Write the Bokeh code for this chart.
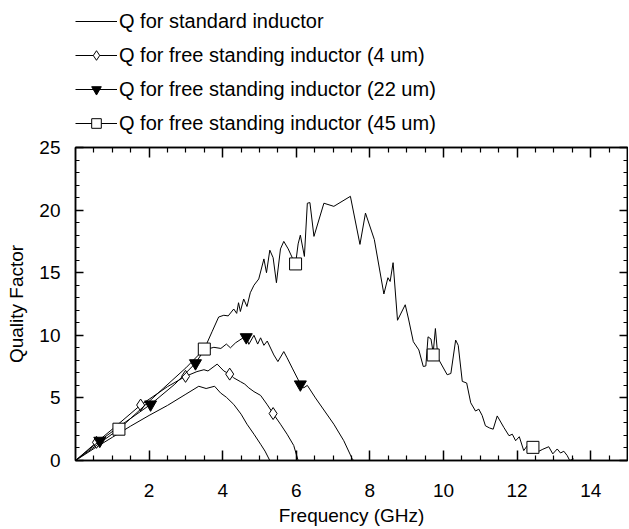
from bokeh.plotting import figure
from bokeh.layouts import column
from bokeh.models import Range1d, LinearAxis, FixedTicker, Legend, LegendItem, CustomJSTickFormatter
from bokeh.embed import file_html
from bokeh.resources import INLINE

# ---- data ----
std_f = [0, 0.5, 1.0, 1.5, 2.0, 2.5, 3.0, 3.35, 3.55, 3.78, 3.94, 4.1, 4.3, 4.5, 4.66, 4.85, 5.03, 5.15, 5.28]
std_q = [0, 0.95, 1.85, 2.75, 3.6, 4.4, 5.3, 5.93, 5.75, 5.93, 5.4, 5.05, 4.48, 3.7, 2.9, 2.1, 1.3, 0.75, 0]

fs4_f = [0, 0.57, 1.0, 1.77, 2.5, 2.99, 3.3, 3.49, 3.6, 3.85, 4.03, 4.19, 4.3, 4.48, 4.6, 4.71, 4.85,
         5.03, 5.2, 5.37, 5.57, 5.75, 5.93, 6.05]
fs4_q = [0, 1.45, 2.5, 4.43, 5.9, 6.72, 7.1, 7.25, 7.15, 7.7, 7.15, 6.9, 6.6, 6.3, 6.1, 5.8, 5.5,
         5.2, 4.5, 3.75, 2.9, 2.1, 1.2, 0]
fs4_mf = [0.57, 1.77, 2.99, 4.19, 5.37]
fs4_mq = [1.45, 4.43, 6.72, 6.9, 3.75]

fs22_f = [0, 0.66, 1.3, 2.04, 2.7, 3.26, 3.5, 3.76, 3.95, 4.1, 4.21, 4.35, 4.53, 4.64, 4.71, 4.85,
          4.95, 5.03, 5.12, 5.21, 5.39, 5.5, 5.66, 5.75, 5.89, 6.11, 6.2, 6.3, 6.52, 7.02, 7.29, 7.52, 7.56]
fs22_q = [0, 1.58, 2.95, 4.48, 6.1, 7.77, 8.83, 9.04, 8.95, 9.3, 9.0, 9.4, 9.75, 9.88, 9.28, 10.0,
          9.3, 9.8, 9.2, 9.54, 8.43, 7.9, 8.7, 8.2, 7.38, 6.11, 5.8, 6.0, 5.0, 2.9, 1.58, 0.13, 0]
fs22_mf = [0.66, 2.04, 3.26, 4.64, 6.11]
fs22_mq = [1.58, 4.48, 7.77, 9.85, 6.08]

fs45_f = [0, 1.18, 2.4, 3.0, 3.5, 3.71, 3.89, 4.03, 4.15, 4.3, 4.38, 4.43, 4.48, 4.57, 4.66, 4.75,
          4.85, 4.98, 5.12, 5.19, 5.28, 5.37, 5.46, 5.57, 5.66, 5.78, 5.89, 5.98, 6.05, 6.11, 6.22,
          6.3, 6.37, 6.48, 6.75, 7.02, 7.47, 7.73, 7.88, 8.12, 8.38, 8.49, 8.55, 8.63, 8.75, 8.96,
          9.05, 9.18, 9.33, 9.45, 9.52, 9.58, 9.66, 9.72, 9.78, 9.85, 10.1, 10.2, 10.33, 10.4, 10.51,
          10.63, 10.74, 10.87, 10.96, 11.05, 11.14, 11.25, 11.35, 11.46, 11.64, 11.78, 11.87, 11.96,
          12.06, 12.18, 12.31, 12.43, 12.54, 12.7, 12.86, 12.97, 13.09, 13.18, 13.27, 13.36, 13.43, 13.54]
fs45_q = [0, 2.5, 5.8, 7.4, 8.9, 10.28, 11.46, 11.6, 11.55, 12.1, 11.75, 12.6, 11.9, 12.9, 12.3, 13.4,
          14.0, 14.5, 16.1, 15.0, 16.8, 16.2, 14.2, 16.9, 17.5, 16.9, 16.2, 15.7, 17.3, 18.0, 16.3,
          20.55, 20.6, 17.9, 20.55, 20.3, 21.1, 17.26, 19.76, 17.65, 13.3, 14.6, 14.3, 15.8, 11.2, 12.44,
          11.3, 9.49, 8.83, 7.51, 7.55, 9.88, 9.7, 8.6, 10.54, 8.17, 6.85, 6.95, 9.62, 9.2, 6.32,
          6.19, 4.61, 3.95, 4.1, 3.6, 2.77, 2.6, 2.5, 3.56, 2.64, 1.98, 2.1, 1.58,
          1.9, 0.79, 1.32, 1.05, 0.66, 0.9, 1.1, 0.53, 0.92, 0.6, 0.74, 0.4, 0, 0.13]
fs45_mf = [1.18, 3.5, 5.98, 9.72, 12.43]
fs45_mq = [2.5, 8.9, 15.7, 8.43, 1.05]

labels = ["Q for standard inductor",
          "Q for free standing inductor (4 um)",
          "Q for free standing inductor (22 um)",
          "Q for free standing inductor (45 um)"]

x_ticks = [2, 4, 6, 8, 10, 12, 14]
x_minor = [0.5, 1, 1.5, 2.5, 3, 3.5, 4.5, 5, 5.5, 6.5, 7, 7.5, 8.5, 9, 9.5, 10.5, 11, 11.5,
           12.5, 13, 13.5, 14.5]
y_ticks = [0, 5, 10, 15, 20, 25]
y_minor = [1, 2, 3, 4, 6, 7, 8, 9, 11, 12, 13, 14, 16, 17, 18, 19, 21, 22, 23, 24]

FONT = "Liberation Sans"

# marker styles
styles = {
    "fs4": dict(marker="diamond", size=12, fill_color="white"),
    "fs22": dict(marker="inverted_triangle", size=12, fill_color="black"),
    "fs45": dict(marker="square", size=12, fill_color="white"),
}


def draw_series(fig):
    r0 = fig.line(std_f, std_q, line_color="black", line_width=1)
    r4 = fig.line(fs4_f, fs4_q, line_color="black", line_width=1)
    m4 = fig.scatter(fs4_mf, fs4_mq, line_color="black", line_width=1, **styles["fs4"])
    r22 = fig.line(fs22_f, fs22_q, line_color="black", line_width=1)
    m22 = fig.scatter(fs22_mf, fs22_mq, line_color="black", line_width=1, **styles["fs22"])
    r45 = fig.line(fs45_f, fs45_q, line_color="black", line_width=1)
    m45 = fig.scatter(fs45_mf, fs45_mq, line_color="black", line_width=1, **styles["fs45"])
    return [[r0], [r4, m4], [r22, m22], [r45, m45]]


# ---------------- main plot ----------------
p = figure(width=628, height=393,
           min_border_left=75, min_border_right=1, min_border_top=12, min_border_bottom=65,
           x_range=Range1d(0, 15), y_range=Range1d(0, 25),
           output_backend="svg", toolbar_location=None)
p.grid.visible = False
p.outline_line_color = "black"
p.outline_line_width = 1.5
p.background_fill_color = "white"
p.border_fill_color = "white"


def style_axis(ax, ticks, minor, major_len, minor_len, labels_on=True):
    ax.ticker = FixedTicker(ticks=ticks, minor_ticks=minor)
    ax.axis_line_color = "black"
    ax.axis_line_width = 1.5
    ax.major_tick_in = major_len
    ax.major_tick_out = 0
    ax.minor_tick_in = minor_len
    ax.minor_tick_out = 0
    ax.major_tick_line_width = 1.5
    ax.minor_tick_line_width = 1.2
    ax.major_tick_line_color = "black"
    ax.minor_tick_line_color = "black"
    ax.major_label_text_font = FONT
    ax.major_label_text_font_size = "19px"
    ax.major_label_text_color = "black"
    ax.axis_label_text_font = FONT
    ax.axis_label_text_font_size = "19px"
    ax.axis_label_text_font_style = "normal"
    ax.axis_label_text_color = "black"
    if not labels_on:
        ax.formatter = CustomJSTickFormatter(code="return ''")
        ax.major_label_standoff = 0


xa = p.xaxis[0]
style_axis(xa, x_ticks, x_minor, 10, 5)
xa.axis_label = "Frequency (GHz)"
xa.major_label_standoff = 23
xa.axis_label_standoff = 5

ya = p.yaxis[0]
style_axis(ya, y_ticks, y_minor, 8, 4)
ya.axis_label = "Quality Factor"
ya.major_label_standoff = 15
ya.axis_label_standoff = 9

top = LinearAxis()
style_axis(top, x_ticks, x_minor, 10, 5, labels_on=False)
p.add_layout(top, "above")
right = LinearAxis()
style_axis(right, y_ticks, y_minor, 8, 4, labels_on=False)
p.add_layout(right, "right")

draw_series(p)

# ---------------- legend strip ----------------
# same series drawn again but scrolled out of view; only their legend glyphs show
lg = figure(width=628, height=135, min_border_left=0, min_border_right=0,
            min_border_top=0, min_border_bottom=0,
            x_axis_location=None, y_axis_location=None,
            x_range=Range1d(100, 101), y_range=Range1d(100, 101),
            output_backend="svg", toolbar_location=None)
lg.grid.visible = False
lg.outline_line_color = None
lg.border_fill_color = "white"
lg.background_fill_color = "white"

groups = draw_series(lg)

legend = Legend(items=[LegendItem(label=lab, renderers=g) for lab, g in zip(labels, groups)],
                location=(0, 0))
legend.padding = 0
legend.margin = 0
legend.spacing = 10
legend.glyph_width = 42
legend.glyph_height = 24
legend.label_height = 24
legend.label_standoff = 2
legend.label_text_font = FONT
legend.label_text_font_size = "20px"
legend.label_text_color = "black"
legend.border_line_color = None
legend.background_fill_alpha = 0
lg.add_layout(legend, "center")

layout = column(lg, p, spacing=0)
open("out.html", "w").write(file_html(layout, INLINE))
